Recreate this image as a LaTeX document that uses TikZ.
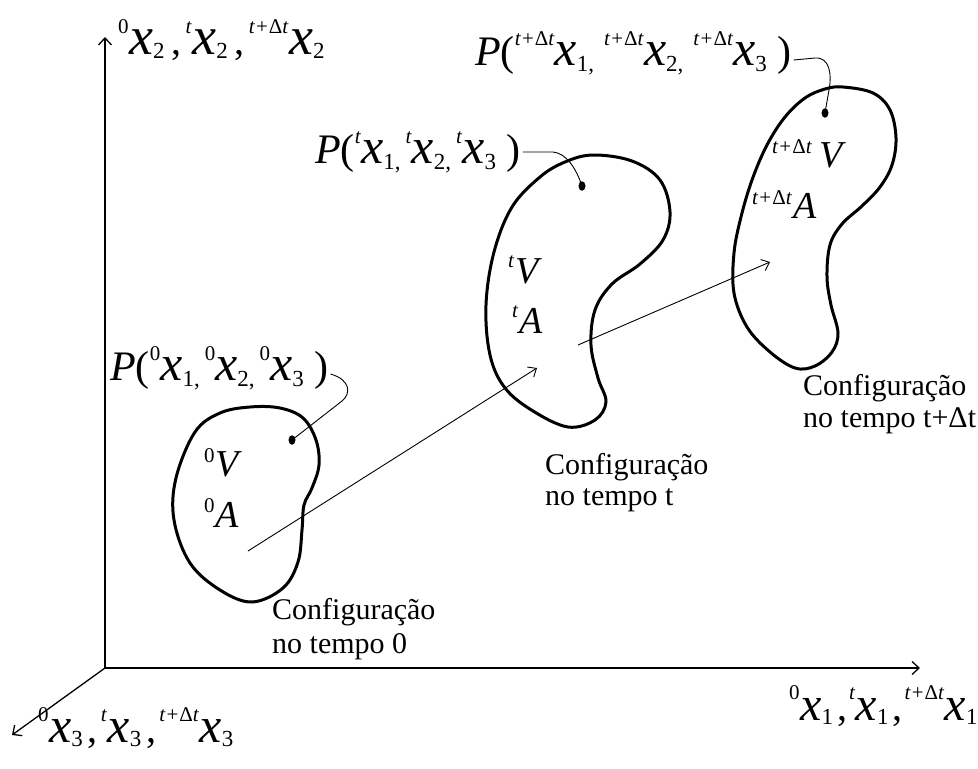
\documentclass[tikz,border=0pt]{standalone}
\usepackage{fontspec}
\setmainfont{Liberation Serif}
\usetikzlibrary{arrows.meta,shapes.geometric}
\newcommand\fs[1]{\fontsize{#1}{#1}\selectfont}
\newcommand\xlab[3][54]{\raisebox{21pt}{\fs{21}#2}\kern0.5pt{\fs{#1}\itshape x}\raisebox{-4pt}{\fs{23}#3}}
\newcommand\pvar[2]{\raisebox{20pt}{\fs{21}#1}{\fs{50}\itshape x}\raisebox{-6pt}{\fs{23}#2}}
\newcommand\tdt{\textit{t}\kern1pt+\kern1ptΔ\textit{t}}
\newcommand\sv[3]{\raisebox{#3}{\fs{21}#1}\kern1pt{\fs{38}\itshape #2}}
\newcommand\sep[2]{\kern#1,\kern#2}
\begin{document}
\begin{tikzpicture}[x=1pt,y=-1pt,
  axis/.style={line width=1.3pt,-{Straight Barb[length=7pt,width=13pt]}},
  move/.style={line width=0.9pt,-{Straight Barb[length=7pt,width=12pt]}},
  blob/.style={line width=3pt,line join=round},
  conn/.style={line width=0.9pt},
  dotn/.style={ellipse,fill=black,draw=none,minimum width=7pt,minimum height=9.5pt,inner sep=0pt},
  txt/.style={font=\fs{30},inner sep=0pt,anchor=base west},
  lab/.style={font=\fs{40},inner sep=0pt,anchor=base west},
  vlab/.style={inner sep=0pt,anchor=base west}]
\useasboundingbox (0,0) rectangle (978,769);

% axes
\coordinate (O) at (105,668);
\coordinate (Ytip) at (105,37);
\coordinate (Xtip) at (920,668);
\coordinate (Ztip) at (12,735);
\draw[axis] (O) -- (Ytip);
\draw[axis] (O) -- (Xtip);
\draw[axis] (O) -- (Ztip);

\node[lab] (ylab) at (118,54) {\xlab{0}{2}\sep{7pt}{4pt}\xlab{\textit{t}}{2}\sep{7pt}{4pt}\xlab{\tdt}{2}};
\node[lab] (xlab) at (789,720) {\xlab[48]{0}{1}\sep{4pt}{2pt}\xlab[48]{\textit{t}}{1}\sep{4pt}{2pt}\xlab[48]{\tdt}{1}};
\node[lab] (zlab) at (38,742) {\xlab[50]{0}{3}\sep{5pt}{3pt}\xlab[50]{\textit{t}}{3}\sep{5pt}{3pt}\xlab[50]{\tdt}{3}};

% blobs
\draw[blob] plot[smooth cycle,tension=0.6] coordinates {(250,407) (280,408) (303,418) (316,440) (319,465) (312,488) (304,505) (302,530) (298,562) (283,588) (252,602) (220,590) (190,563) (174,520) (176,478) (195,432) (220,413)};
\draw[blob] plot[smooth cycle,tension=0.6] coordinates {(593,155) (632,161) (660,180) (670,212) (663,240) (640,264) (612,284) (595,310) (591,345) (598,378) (606,402) (595,420) (568,427) (533,411) (505,388) (490,355) (486,305) (494,252) (512,207) (540,177) (565,162)};
\draw[blob] plot[smooth cycle,tension=0.6] coordinates {(843,87) (873,93) (890,110) (896,138) (892,165) (880,187) (862,206) (842,224) (830,245) (827,277) (831,305) (838,333) (832,352) (815,366) (795,368) (770,352) (747,327) (734,293) (734,253) (741,217) (752,180) (767,145) (785,117) (805,98) (825,89)};

% V and A labels
\node[vlab] (v0) at (204,476) {\sv{0}{V}{14pt}};
\node[vlab] (A0) at (204,527) {\sv{0}{A}{15pt}};
\node[vlab] (vt) at (508,283) {\sv{\textit{t}}{V}{16pt}};
\node[vlab] (At) at (512,333) {\sv{\textit{t}}{A}{16pt}};
\node[vlab] (vd) at (772,167) {\sv{\tdt}{\kern6pt V}{14pt}};
\node[vlab] (Ad) at (752,218) {\sv{\tdt}{A}{14pt}};

% points
\node[dotn] (d0) at (292,440) {};
\node[dotn] (dt) at (582,186) {};
\node[dotn] (dd) at (825,113) {};

% P labels
\node[lab,font=\fs{42}] (p0) at (110,380) {{\itshape P}(\pvar{0}{1,}\kern5pt\pvar{0}{2,}\kern5pt\pvar{0}{3}\ )};
\node[lab,font=\fs{42}] (pt) at (315,163) {{\itshape P}(\pvar{\textit{t}}{1,}\kern5pt\pvar{\textit{t}}{2,}\kern5pt\pvar{\textit{t}}{3}\ )};
\node[lab,font=\fs{42}] (pd) at (475,65) {{\itshape P}(\pvar{\tdt}{1,}\kern10pt\pvar{\tdt}{2,}\kern10pt\pvar{\tdt}{3}\ )};

\coordinate (c0) at (p0.base east);
\coordinate (ct) at (pt.base east);
\coordinate (cd) at (pd.base east);
\draw[conn] ([shift={(2,-6)}]c0) .. controls (351,380) and (351,394) .. (342,401) -- (d0.center);
\draw[conn] ([shift={(2,-11)}]ct) -- (553,152) .. controls (566,153) and (576,168) .. (dt.center);
\draw[conn] ([shift={(2,-5)}]cd) -- (815,58) .. controls (830,57) and (832,75) .. (829,90) -- (dd.center);

% motion arrows
\coordinate (a0s) at (248,551);
\coordinate (a0e) at (537,368);
\coordinate (a1s) at (578,345);
\coordinate (a1e) at (770,262);
\draw[move] (a0s) -- (a0e);
\draw[move] (a1s) -- (a1e);

% captions
\node[txt] (c0a) at (272,619) {Configuração};
\node[txt] (c0b) at (272,653) {no tempo 0};
\node[txt] (cta) at (545,474) {Configuração};
\node[txt] (ctb) at (545,505) {no tempo t};
\node[txt] (cda) at (803,395) {Configuração};
\node[txt] (cdb) at (803,427) {no tempo t+Δt};
\end{tikzpicture}
\end{document}
